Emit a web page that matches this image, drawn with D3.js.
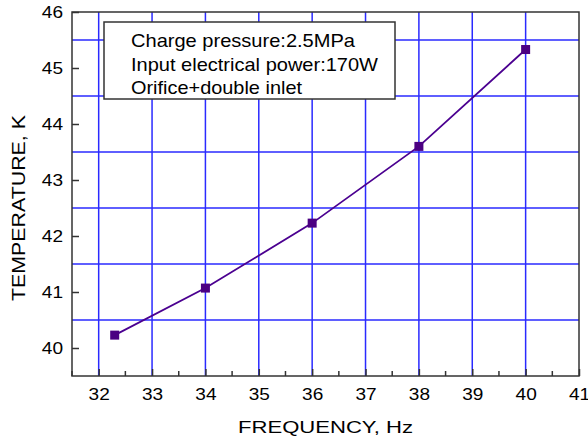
<!DOCTYPE html>
<html><head><meta charset="utf-8">
<script src="https://cdn.jsdelivr.net/npm/d3@7"></script>
<style>body{margin:0;background:#fff}svg{display:block}text{font-family:Arial,"Liberation Sans",sans-serif;fill:#000}</style>
</head><body>
<script>
const frequency = [32.3, 34, 36, 38, 40];
const temperature = [40.23, 41.07, 42.23, 43.6, 45.33];
const xTicks = [32, 33, 34, 35, 36, 37, 38, 39, 40, 41];
const yTicks = [40, 41, 42, 43, 44, 45, 46];
const xGrid = [32, 33, 34, 35, 36, 37, 38, 39, 40];
const yGrid = [40.5, 41.5, 42.5, 43.5, 44.5, 45.5];
const xMinor = [31.5, 32.5, 33.5, 34.5, 35.5, 36.5, 37.5, 38.5, 39.5, 40.5];
const legendLines = ["Charge pressure:2.5MPa", "Input electrical power:170W", "Orifice+double inlet"];

const W = 588, H = 443;
const m = {l: 72, r: 9, t: 12, b: 67};
const svg = d3.select("body").append("svg").attr("width", W).attr("height", H);
const x = d3.scaleLinear().domain([31.5, 41]).range([m.l, W - m.r]);
const y = d3.scaleLinear().domain([39.5, 46]).range([H - m.b, m.t]);

const grid = svg.append("g").attr("stroke", "#2a2aff").attr("stroke-width", 1.5);
grid.selectAll("line.v").data(xGrid).join("line").attr("class", "v")
  .attr("x1", d => x(d)).attr("x2", d => x(d)).attr("y1", y(39.5)).attr("y2", y(46));
grid.selectAll("line.h").data(yGrid).join("line").attr("class", "h")
  .attr("y1", d => y(d)).attr("y2", d => y(d)).attr("x1", x(31.5)).attr("x2", x(41));

const digitW = 10.6;
// axes
const xAxis = d3.axisBottom(x).tickValues(xTicks).tickSize(-7).tickPadding(12).tickFormat(d3.format("d"));
const gx = svg.append("g").attr("transform", `translate(0,${y(39.5)})`).call(xAxis);
gx.selectAll(".tick line").attr("stroke", "#333").attr("stroke-width", 1.5);
gx.selectAll("text").attr("font-size", 17).attr("textLength", d => String(d).length * digitW)
  .attr("lengthAdjust", "spacingAndGlyphs");
gx.select(".domain").remove();
svg.append("g").selectAll("line").data(xMinor).join("line")
  .attr("x1", d => x(d)).attr("x2", d => x(d)).attr("y1", y(39.5)).attr("y2", y(39.5) - 5)
  .attr("stroke", "#333").attr("stroke-width", 1.5);

const yAxis = d3.axisLeft(y).tickValues(yTicks).tickSize(-7).tickPadding(9).tickFormat(d3.format("d"));
const gy = svg.append("g").attr("transform", `translate(${x(31.5)},0)`).call(yAxis);
gy.selectAll(".tick line").attr("stroke", "#333").attr("stroke-width", 1.5);
gy.selectAll("text").attr("font-size", 17).attr("dy", "0.3em").attr("textLength", d => String(d).length * digitW)
  .attr("lengthAdjust", "spacingAndGlyphs");
gy.select(".domain").remove();

svg.append("rect").attr("x", x(31.5)).attr("y", y(46)).attr("width", x(41) - x(31.5)).attr("height", y(39.5) - y(46))
  .attr("fill", "none").attr("stroke", "#333").attr("stroke-width", 1.5);

// data
const line = d3.line().x((d, i) => x(frequency[i])).y(d => y(d));
svg.append("path").datum(temperature).attr("d", line).attr("fill", "none").attr("stroke", "#4b0090").attr("stroke-width", 1.8);
svg.selectAll("rect.pt").data(temperature).join("rect").attr("class", "pt")
  .attr("x", (d, i) => x(frequency[i]) - 4.5).attr("y", d => y(d) - 4.5).attr("width", 9).attr("height", 9)
  .attr("fill", "#4b0082");

// legend
const legendW = [224, 247, 171];
const lg = svg.append("g");
lg.append("rect").attr("x", 104).attr("y", 22).attr("width", 291).attr("height", 77)
  .attr("fill", "#fff").attr("stroke", "#333").attr("stroke-width", 1.5);
lg.selectAll("text").data(legendLines).join("text")
  .attr("x", 131).attr("y", (d, i) => 47 + i * 23.7).attr("font-size", 18.5)
  .attr("textLength", (d, i) => legendW[i]).attr("lengthAdjust", "spacingAndGlyphs").text(d => d);

// titles
svg.append("text").attr("x", 238).attr("y", 433).attr("font-size", 17)
  .attr("textLength", 175).attr("lengthAdjust", "spacingAndGlyphs").text("FREQUENCY, Hz");
svg.append("text").attr("transform", `translate(25,301) rotate(-90)`)
  .attr("font-size", 18.5).attr("textLength", 186).attr("lengthAdjust", "spacingAndGlyphs").text("TEMPERATURE, K");
</script>
</body></html>
